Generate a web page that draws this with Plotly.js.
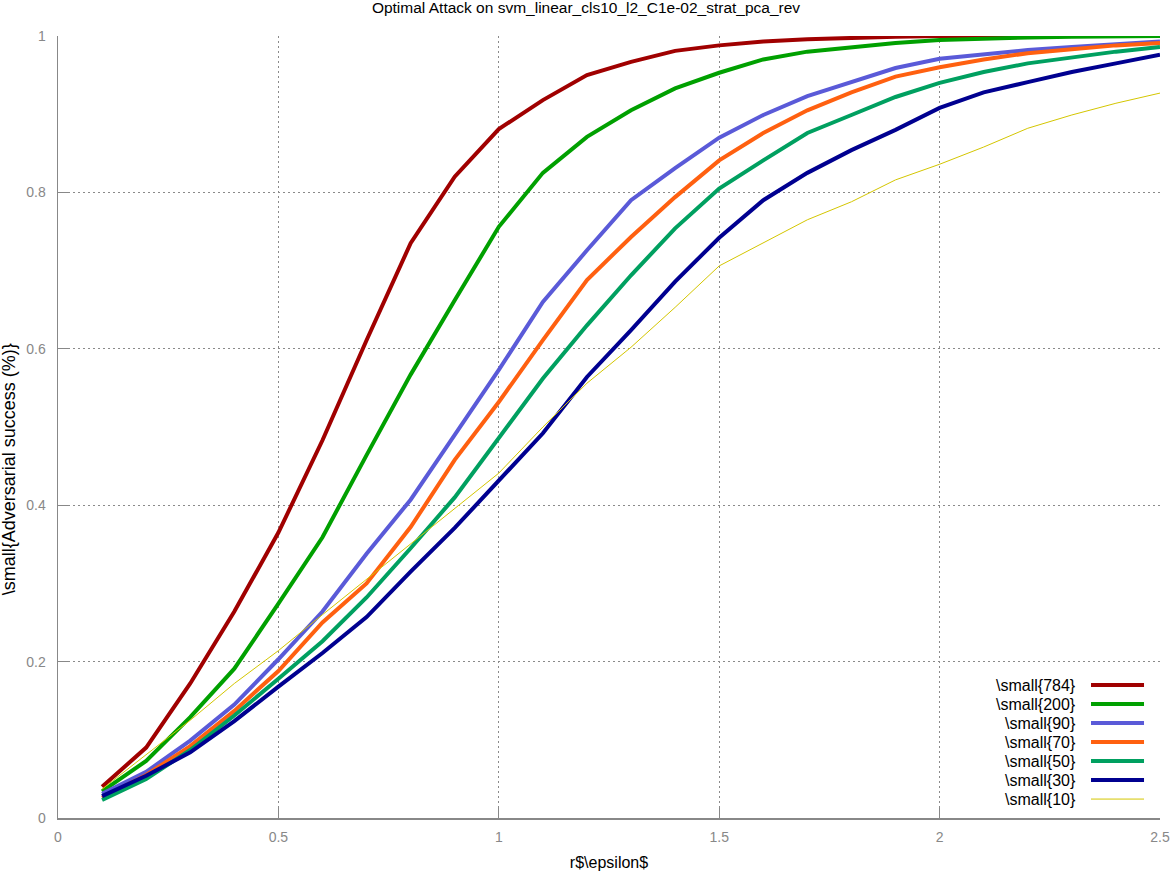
<!DOCTYPE html>
<html>
<head>
<meta charset="utf-8">
<script src="https://cdn.plot.ly/plotly-3.0.1.min.js"></script>
<style>
  html, body { margin: 0; padding: 0; background: #fff; }
  #myPlot { width: 1172px; height: 873px; }
</style>
</head>
<body>
<div id="myPlot"></div>
<script>
// epsilon values (x axis)
let eps = [0.1, 0.2, 0.3, 0.4, 0.5, 0.6, 0.7, 0.8, 0.9, 1.0, 1.1, 1.2, 1.3,
           1.4, 1.5, 1.6, 1.7, 1.8, 1.9, 2.0, 2.1, 2.2, 2.3, 2.4, 2.5];

// adversarial success per number of pca components
let s784 = [0.040, 0.090, 0.172, 0.264, 0.365, 0.483, 0.611, 0.735, 0.820, 0.881, 0.918, 0.950, 0.967,
            0.981, 0.988, 0.993, 0.996, 0.998, 0.999, 1.000, 1.000, 1.000, 1.000, 1.000, 1.000];
let s200 = [0.034, 0.073, 0.129, 0.191, 0.274, 0.359, 0.464, 0.567, 0.662, 0.756, 0.825, 0.871, 0.905,
            0.933, 0.953, 0.970, 0.980, 0.986, 0.991, 0.995, 0.997, 0.998, 0.999, 0.999, 1.000];
let s90  = [0.031, 0.059, 0.099, 0.145, 0.203, 0.264, 0.338, 0.407, 0.490, 0.573, 0.660, 0.726, 0.790,
            0.831, 0.870, 0.899, 0.923, 0.941, 0.959, 0.971, 0.977, 0.982, 0.986, 0.990, 0.993];
let s70  = [0.026, 0.055, 0.092, 0.137, 0.188, 0.250, 0.300, 0.372, 0.458, 0.532, 0.611, 0.688, 0.743,
            0.794, 0.841, 0.876, 0.905, 0.928, 0.948, 0.960, 0.970, 0.978, 0.983, 0.988, 0.991];
let s50  = [0.023, 0.050, 0.087, 0.131, 0.178, 0.226, 0.282, 0.345, 0.410, 0.485, 0.562, 0.630, 0.694,
            0.754, 0.805, 0.841, 0.876, 0.899, 0.922, 0.940, 0.954, 0.965, 0.973, 0.980, 0.986];
let s30  = [0.028, 0.054, 0.084, 0.124, 0.168, 0.211, 0.257, 0.315, 0.371, 0.432, 0.492, 0.564, 0.624,
            0.686, 0.742, 0.790, 0.825, 0.854, 0.880, 0.908, 0.928, 0.941, 0.954, 0.965, 0.976];
let s10  = [0.037, 0.081, 0.125, 0.172, 0.214, 0.260, 0.305, 0.350, 0.395, 0.441, 0.500, 0.556, 0.602,
            0.653, 0.706, 0.735, 0.765, 0.788, 0.816, 0.836, 0.858, 0.882, 0.899, 0.914, 0.927];

let names  = ['\\small{784}', '\\small{200}', '\\small{90}', '\\small{70}', '\\small{50}', '\\small{30}', '\\small{10}'];
let colors = ['#a00000', '#00a000', '#5a5ad8', '#ff6010', '#00a060', '#000090', '#d4c600'];
let widths = [4, 4, 4, 4, 4, 4, 1];
let series = [s784, s200, s90, s70, s50, s30, s10];

let font = 'Liberation Sans, Arial, sans-serif';

let data1 = series.map((ys, i) => ({
  x: eps,
  y: ys,
  type: 'scatter',
  mode: 'lines',
  name: names[i],
  line: {color: colors[i], width: widths[i]},
  showlegend: false
}));

// gnuplot-style key: right aligned text, sample line to the right
let annotations = [];
let shapes = [];
names.forEach((n, i) => {
  let yy = 0.170 - i * 0.0243;
  annotations.push({
    xref: 'paper', yref: 'paper', x: 0.9256, y: yy,
    xanchor: 'right', yanchor: 'middle', showarrow: false,
    text: n, font: {family: font, size: 16, color: '#000'}
  });
  shapes.push({
    type: 'line', xref: 'paper', yref: 'paper',
    x0: 0.9374, x1: 0.9855, y0: yy, y1: yy,
    line: {color: colors[i], width: widths[i]}
  });
});

// y axis label, placed like gnuplot does it
annotations.push({
  xref: 'paper', yref: 'paper', x: 0, y: 0.446, xshift: -49,
  xanchor: 'center', yanchor: 'middle', showarrow: false, textangle: -90,
  text: '\\small{Adversarial success (%)}',
  font: {family: font, size: 18, color: '#000'}
});

let axisBase = {
  showgrid: true,
  gridcolor: '#8a8a8a',
  griddash: '2px,3px',
  gridwidth: 1,
  zeroline: false,
  showline: true,
  linecolor: '#888',
  linewidth: 1.5,
  ticks: 'inside',
  ticklen: 10,
  tickcolor: '#888',
  tickfont: {family: font, size: 14, color: '#888'}
};

let layout = {
  width: 1172,
  height: 873,
  margin: {l: 58, r: 12, t: 36, b: 55},
  paper_bgcolor: '#fff',
  plot_bgcolor: '#fff',
  title: {
    text: 'Optimal Attack on svm_linear_cls10_l2_C1e-02_strat_pca_rev',
    font: {family: font, size: 15.5, color: '#000'},
    x: 0.5, xanchor: 'center', y: 0.991, yanchor: 'middle'
  },
  xaxis: Object.assign({}, axisBase, {
    range: [0, 2.5],
    tickvals: [0, 0.5, 1, 1.5, 2, 2.5],
    ticktext: ['0', '0.5', '1', '1.5', '2', '2.5'],
    ticklabelstandoff: 6,
    title: {text: 'r$\\epsilon$', font: {family: font, size: 16, color: '#000'}, standoff: 12}
  }),
  yaxis: Object.assign({}, axisBase, {
    range: [0, 1],
    tickvals: [0, 0.2, 0.4, 0.6, 0.8, 1],
    ticktext: ['0', '0.2', '0.4', '0.6', '0.8', '1'],
    ticklabelstandoff: 8
  }),
  annotations: annotations,
  shapes: shapes,
  showlegend: false
};

Plotly.newPlot('myPlot', data1, layout, {staticPlot: true});
</script>
</body>
</html>
